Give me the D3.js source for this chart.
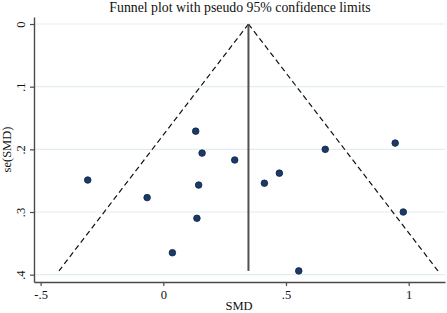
<!DOCTYPE html>
<html>
<head>
<meta charset="utf-8">
<script src="https://cdn.jsdelivr.net/npm/d3@7"></script>
<style>
  body { margin: 0; background: #fff; }
  svg text { font-family: "Liberation Serif", "Times New Roman", serif; fill: #111; }
</style>
</head>
<body>
<script>
// study data
const smd = [0.132, 0.158, 0.291, -0.308, 0.144, -0.066, 0.660, 0.945, 0.473, 0.412, 0.978, 0.137, 0.037, 0.552];
const seSmd = [0.171, 0.206, 0.217, 0.249, 0.257, 0.277, 0.200, 0.190, 0.238, 0.254, 0.300, 0.310, 0.365, 0.394];
const pooled = 0.347;
const xTicks = [-0.5, 0, 0.5, 1];
const xTickLabels = ["-.5", "0", ".5", "1"];
const yTicks = [0, 0.1, 0.2, 0.3, 0.4];
const yTickLabels = ["0", ".1", ".2", ".3", ".4"];

const W = 447, H = 313;
const plot = {left: 34, right: 445, top: 17, bottom: 282};

let svg = d3.select("body").append("svg")
  .attr("width", W).attr("height", H);

let x = d3.scaleLinear().domain([-0.527, 1.148]).range([plot.left, plot.right]);
let y = d3.scaleLinear().domain([-0.0112, 0.4117]).range([plot.top, plot.bottom]);

// grid lines
svg.append("g").selectAll("line").data(yTicks).enter().append("line")
  .attr("x1", plot.left).attr("x2", plot.right)
  .attr("y1", d => y(d)).attr("y2", d => y(d))
  .style("stroke", "#e1ecf3").style("stroke-width", 1.2);

// axes
let xAxis = svg.append("g")
  .attr("transform", `translate(0,${plot.bottom})`)
  .call(d3.axisBottom(x).tickValues(xTicks).tickFormat((d, i) => xTickLabels[i]).tickSize(4).tickSizeOuter(0));
let yAxis = svg.append("g")
  .attr("transform", `translate(${plot.left},0)`)
  .call(d3.axisLeft(y).tickValues(yTicks).tickFormat((d, i) => yTickLabels[i]).tickSize(4).tickSizeOuter(0));

[xAxis, yAxis].forEach(a => {
  a.select(".domain").style("stroke", "#4a4a4a").style("stroke-width", 1.4);
  a.selectAll(".tick line").style("stroke", "#4a4a4a").style("stroke-width", 1.2);
  a.selectAll("text").style("font-family", "Liberation Serif, serif").style("font-size", "12.5px").attr("fill", "#111");
});
xAxis.selectAll(".tick text").attr("dy", "0.95em").attr("y", 5);
yAxis.selectAll(".tick text")
  .attr("x", null).attr("dy", null)
  .attr("text-anchor", "middle")
  .attr("transform", "translate(-9,0) rotate(-90)");

// funnel limits
let maxSe = d3.max(seSmd);
let funnel = [
  [[pooled, 0], [pooled - 1.96 * maxSe, maxSe]],
  [[pooled, 0], [pooled + 1.96 * maxSe, maxSe]]
];
let line = d3.line().x(d => x(d[0])).y(d => y(d[1]));
svg.append("g").selectAll("path").data(funnel).enter().append("path")
  .attr("d", line)
  .style("fill", "none").style("stroke", "#111").style("stroke-width", 1.2)
  .style("stroke-dasharray", "5.5,3.5");

// pooled estimate
svg.append("path")
  .attr("d", line([[pooled, 0], [pooled, maxSe]]))
  .style("stroke", "#505050").style("stroke-width", 2);

// study points
svg.append("g").selectAll("circle").data(smd).enter().append("circle")
  .attr("cx", d => x(d))
  .attr("cy", (d, i) => y(seSmd[i]))
  .attr("r", 3.3)
  .style("fill", "#1b3a68").style("stroke", "#0f2445").style("stroke-width", 0.8);

// titles
svg.append("text").attr("x", 240).attr("y", 12).attr("text-anchor", "middle")
  .style("font-size", "13.8px").text("Funnel plot with pseudo 95% confidence limits");
svg.append("text").attr("x", 239).attr("y", 310).attr("text-anchor", "middle")
  .style("font-size", "12.5px").text("SMD");
svg.append("text").attr("transform", `translate(11,${(plot.top + plot.bottom) / 2}) rotate(-90)`)
  .attr("text-anchor", "middle").style("font-size", "12.5px").text("se(SMD)");
</script>
</body>
</html>
